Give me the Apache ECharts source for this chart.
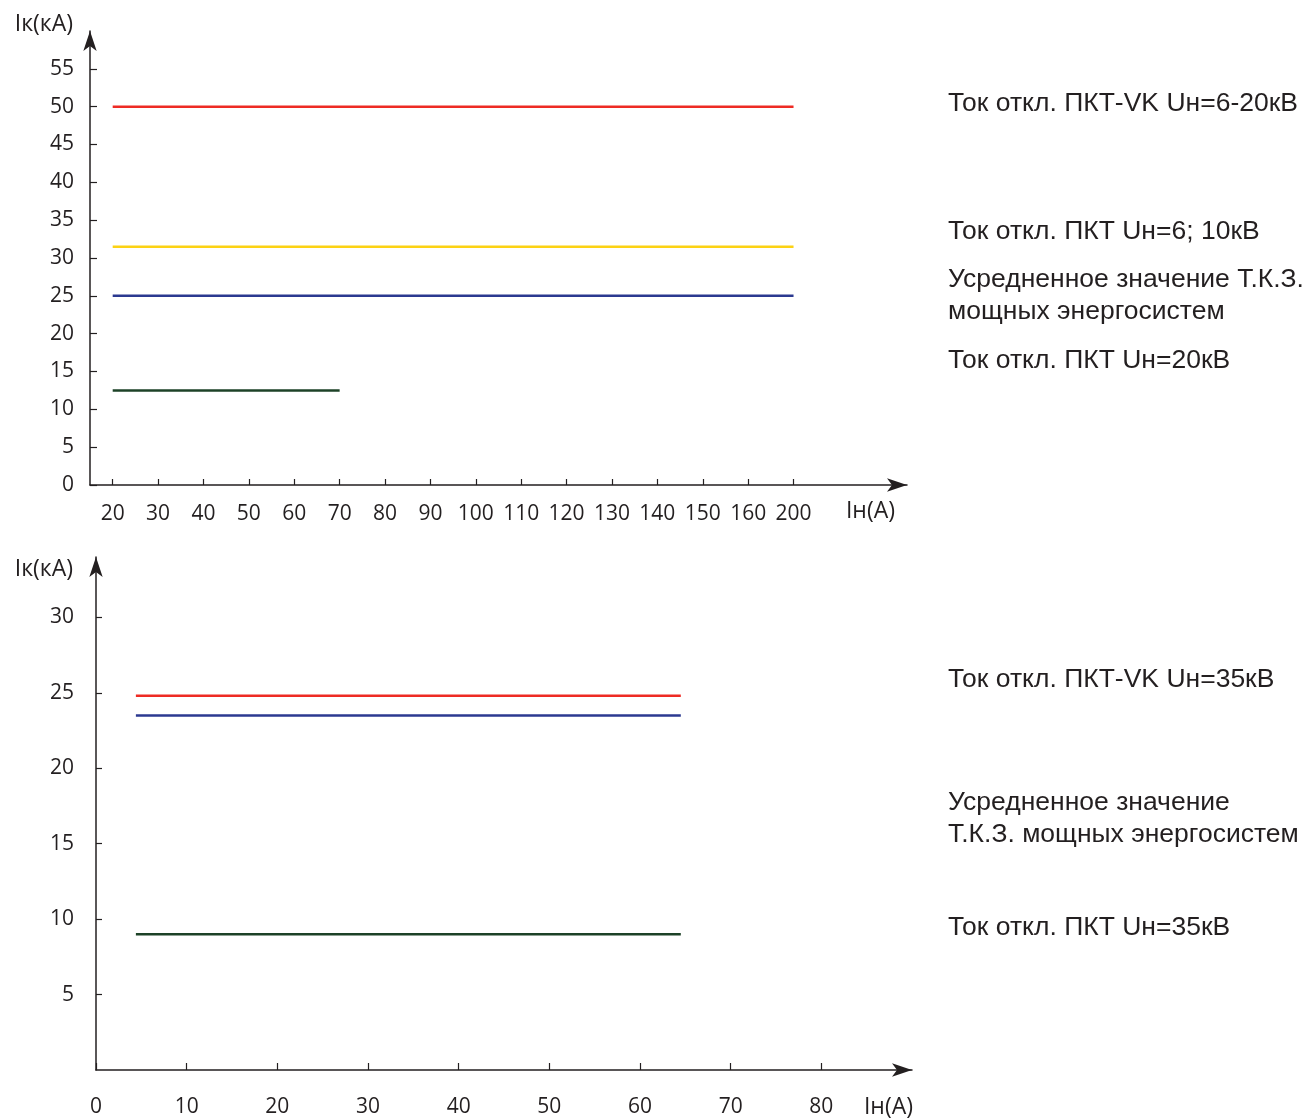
<!DOCTYPE html>
<html>
<head>
<meta charset="utf-8">
<script src="https://cdn.jsdelivr.net/npm/echarts@6/dist/echarts.min.js"></script>
<style>
  html, body { margin: 0; padding: 0; background: #fff; }
  #chart { width: 1307px; height: 1120px; }
</style>
</head>
<body>
<div id="chart"></div>
<script>
// top chart: Iн 20..200 A (uneven labels, equal steps)
const topXLabels = ['20', '30', '40', '50', '60', '70', '80', '90', '100', '110', '120', '130', '140', '150', '160', '200'];
const topYTicks = [0, 5, 10, 15, 20, 25, 30, 35, 40, 45, 50, 55];
const topLineValues = [50, 31.5, 25, 12.5];
const topLineFrom = ['20', '20', '20', '20'];
const topLineTo = ['200', '200', '200', '70'];
const topNotes = [
  'Ток откл. ПКТ-VK Uн=6-20кВ',
  'Ток откл. ПКТ Uн=6; 10кВ',
  'Усредненное значение Т.К.З.\nмощных энергосистем',
  'Ток откл. ПКТ Uн=20кВ'
];

// bottom chart: Uн=35кВ
const botXTicks = [0, 10, 20, 30, 40, 50, 60, 70, 80];
const botYTicks = [5, 10, 15, 20, 25, 30];
const botLineValues = [24.8, 23.5, 9];
const botLineFrom = [4.4, 4.4, 4.4];
const botLineTo = [64.5, 64.5, 64.5];
const botNotes = [
  'Ток откл. ПКТ-VK Uн=35кВ',
  'Усредненное значение\nТ.К.З. мощных энергосистем',
  'Ток откл. ПКТ Uн=35кВ'
];

const topColors = ['#ee2b24', '#fcd213', '#2b3990', '#1d4227'];
const botColors = ['#ee2b24', '#2b3990', '#1d4227'];
const ink = '#231f20';
const labelFont = { color: ink, fontFamily: 'Open Sans', fontSize: 21 };
const nameFont = { color: ink, fontFamily: 'Open Sans', fontSize: 23 };
const noteFont = '26.5px "Liberation Sans"';

const chart = echarts.init(document.getElementById('chart'));

const series = [];
topLineValues.forEach((v, i) => {
  series.push({
    type: 'line', xAxisIndex: 0, yAxisIndex: 0,
    data: [[topLineFrom[i], v], [topLineTo[i], v]],
    symbol: 'none', silent: true,
    lineStyle: { color: topColors[i], width: 2.5 }
  });
});
botLineValues.forEach((v, i) => {
  series.push({
    type: 'line', xAxisIndex: 1, yAxisIndex: 1,
    data: [[botLineFrom[i], v], [botLineTo[i], v]],
    symbol: 'none', silent: true,
    lineStyle: { color: botColors[i], width: 2.5 }
  });
});

const axisLine = {
  show: true,
  symbol: ['none', 'arrow'],
  symbolSize: [10, 20],
  lineStyle: { color: ink, width: 1.5 }
};

const topNoteY = [88, 216, 264, 345];
const botNoteY = [664, 787, 912];
const graphic = [];
topNotes.forEach((t, i) => graphic.push({
  type: 'text', left: 948, top: topNoteY[i],
  style: { text: t, fill: ink, font: noteFont, lineHeight: 32 }
}));
botNotes.forEach((t, i) => graphic.push({
  type: 'text', left: 948, top: botNoteY[i],
  style: { text: t, fill: ink, font: noteFont, lineHeight: 32 }
}));

chart.setOption({
  animation: false,
  backgroundColor: '#fff',
  grid: [
    { left: 90, top: 31, width: 817, height: 454 },
    { left: 96, top: 557, width: 816, height: 513 }
  ],
  xAxis: [{
    type: 'category', gridIndex: 0,
    data: topXLabels.concat(['', '']),
    boundaryGap: true,
    name: 'Iн(A)', nameLocation: 'end', nameGap: -12,
    nameTextStyle: Object.assign({}, nameFont, { align: 'right', verticalAlign: 'top', padding: [15, 0, 0, 0] }),
    axisLine: axisLine,
    axisTick: { show: true, inside: true, length: 6, alignWithLabel: true,
      interval: (i, v) => v !== '', lineStyle: { color: ink, width: 1.2 } },
    axisLabel: Object.assign({}, labelFont, { margin: 19, interval: 0 }),
    splitLine: { show: false }
  }, {
    type: 'value', gridIndex: 1, min: 0, max: 90,
    name: 'Iн(A)', nameLocation: 'end', nameGap: 1,
    nameTextStyle: Object.assign({}, nameFont, { align: 'right', verticalAlign: 'top', padding: [26, 0, 0, 0] }),
    axisLine: axisLine,
    axisTick: { show: true, length: 7, inside: true, customValues: botXTicks, lineStyle: { color: ink, width: 1.2 } },
    axisLabel: Object.assign({}, labelFont, { margin: 27, customValues: botXTicks }),
    splitLine: { show: false }
  }],
  yAxis: [{
    type: 'value', gridIndex: 0, min: 0, max: 60,
    name: 'Iк(кА)', nameLocation: 'end', nameGap: 7,
    nameTextStyle: Object.assign({}, nameFont, { align: 'right', verticalAlign: 'middle', padding: [0, 17, 0, 0] }),
    axisLine: axisLine,
    axisTick: { show: true, inside: true, length: 7, customValues: topYTicks, lineStyle: { color: ink, width: 1.2 } },
    axisLabel: Object.assign({}, labelFont, { margin: 16, customValues: topYTicks }),
    splitLine: { show: false }
  }, {
    type: 'value', gridIndex: 1, min: 0, max: 34,
    name: 'Iк(кА)', nameLocation: 'end', nameGap: -12,
    nameTextStyle: Object.assign({}, nameFont, { align: 'right', verticalAlign: 'middle', padding: [0, 23, 0, 0] }),
    axisLine: axisLine,
    axisTick: { show: true, inside: true, length: 6, customValues: botYTicks, lineStyle: { color: ink, width: 1.2 } },
    axisLabel: Object.assign({}, labelFont, { margin: 22, customValues: botYTicks }),
    splitLine: { show: false }
  }],
  graphic: graphic,
  series: series
});
</script>
</body>
</html>
